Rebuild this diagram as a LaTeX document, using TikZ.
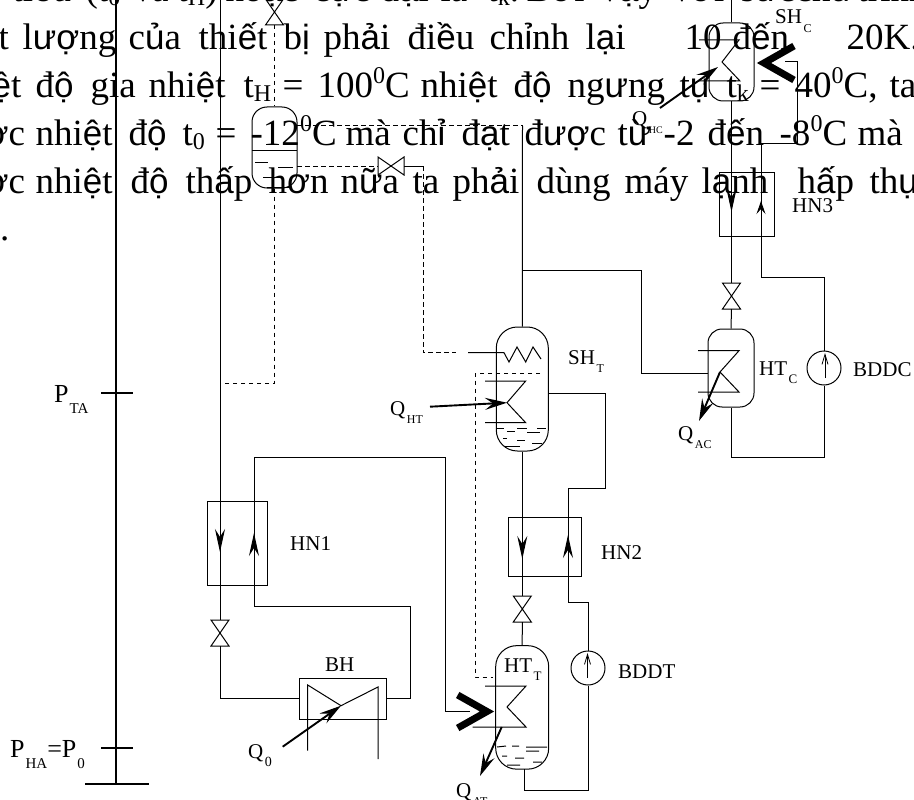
\documentclass[tikz,border=0pt]{standalone}
\usepackage{fontspec}
\setmainfont{Liberation Serif}
\newfontfamily\fbk{Liberation Sans}
\usetikzlibrary{arrows.meta,calc}
% body text helpers
\newcommand{\bsize}{\fontsize{37}{40}\selectfont}
\newcommand{\sv}[1]{{\fbk\fontsize{35}{40}\selectfont #1}}
\newcommand{\dn}[1]{\raisebox{-4pt}{\fontsize{24}{24}\selectfont #1}}
\newcommand{\upp}[1]{\raisebox{14pt}{\fontsize{24}{24}\selectfont #1}}
\newcommand{\wrd}[2]{\rlap{\hskip #1pt #2}}
% label helpers
\newcommand{\lsub}[3]{{\fontsize{21}{22}\selectfont #1}\raisebox{-8.5pt}{\fontsize{#3}{#3}\selectfont\hspace{1.5pt}#2}}
\newcommand{\valveV}[3]{%
  \coordinate (#1) at (#2,#3);
  \coordinate (#1-a) at ($(#1)+(0,-13)$);
  \coordinate (#1-b) at ($(#1)+(0,13)$);
  \draw[pipe] ($(#1)+(-9,-13)$) -- ($(#1)+(9,-13)$) -- ($(#1)+(-9,13)$) -- ($(#1)+(9,13)$) -- cycle;}
\newcommand{\valveH}[3]{%
  \coordinate (#1) at (#2,#3);
  \coordinate (#1-a) at ($(#1)+(-13,0)$);
  \coordinate (#1-b) at ($(#1)+(13,0)$);
  \draw[pipe] ($(#1)+(-13,-9)$) -- ($(#1)+(-13,9)$) -- ($(#1)+(13,-9)$) -- ($(#1)+(13,9)$) -- cycle;}
\tikzset{
  pipe/.style={line width=1pt,line join=miter},
  dashpipe/.style={pipe,dash pattern=on 4.5pt off 3.5pt},
  bodyline/.style={anchor=base west,inner sep=0pt,font=\bsize},
  vessel/.style={draw,line width=1pt,inner sep=0pt,minimum width=#1},
  box/.style={draw,line width=1pt,inner sep=0pt},
  pump/.style={draw,circle,line width=1pt,inner sep=0pt,minimum size=34pt},
  lab/.style={inner sep=0pt,anchor=base west,font=\fontsize{21}{22}\selectfont},
  axis/.style={line width=2pt},
  tick/.style={line width=1.8pt},
  heat/.style={line width=1.9pt,-{Stealth[length=22pt,width=12pt,inset=8pt]}},
  flow/.style={line width=1pt,-{Stealth[length=23pt,width=10pt,inset=8pt]}},
  flowsmall/.style={line width=1pt,-{Stealth[length=13pt,width=9pt,inset=5pt]}},
  pumpflow/.style={line width=.8pt,-{Straight Barb[length=10pt,width=6pt]}},
  chev/.style={line width=7pt,line join=miter,miter limit=10},
}
\begin{document}
\begin{tikzpicture}[x=1pt,y=-1pt]
\clip (0,0) rectangle (914,800);
\useasboundingbox (0,0) rectangle (914,800);
% ---------- background paragraph
\node[bodyline] (line0) at (0,2) {\wrd{12}{ti\sv{ể}u}\wrd{85}{(t\dn{0}}\wrd{133}{và}\wrd{177}{t\dn{H})}\wrd{225}{ho\sv{ặ}c}\wrd{313}{c\sv{ự}c}\wrd{380}{đ\sv{ạ}i}\wrd{440}{là}\wrd{487}{t\dn{k}.}\wrd{526}{B\sv{ở}i}\wrd{600}{v\sv{ậ}y}\wrd{672}{v\sv{ớ}i}\wrd{740}{s\sv{ứ}c}\wrd{795}{ch\sv{ủ}}\wrd{857}{trình}};
\node[bodyline] (line1) at (0,50) {\wrd{-2}{t}\wrd{22}{l\sv{ượ}ng}\wrd{128}{c\sv{ủ}a}\wrd{198}{thi\sv{ế}t}\wrd{283}{b\sv{ị}}\wrd{323}{ph\sv{ả}i}\wrd{407}{đi\sv{ề}u}\wrd{489}{ch\sv{ỉ}nh}\wrd{585}{l\sv{ạ}i}\wrd{684}{10}\wrd{732}{đ\sv{ế}n}\wrd{846}{20K.}};
\node[bodyline] (line2) at (0,98) {\wrd{-9}{\sv{ệ}t}\wrd{35}{đ\sv{ộ}}\wrd{90}{gia}\wrd{148}{nhi\sv{ệ}t}\wrd{243}{t\dn{H}}\wrd{282}{=}\wrd{317}{100\upp{0}C}\wrd{420}{nhi\sv{ệ}t}\wrd{513}{đ\sv{ộ}}\wrd{567}{ng\sv{ư}ng}\wrd{679}{t\sv{ụ}}\wrd{726}{t\dn{k}}\wrd{759}{=}\wrd{794}{40\upp{0}C,}\wrd{889}{ta}};
\node[bodyline] (line3) at (0,146) {\wrd{-15}{\sv{ợ}c}\wrd{35}{nhi\sv{ệ}t}\wrd{128}{đ\sv{ộ}}\wrd{182}{t\dn{0}}\wrd{215}{=}\wrd{250}{-12\upp{0}C}\wrd{345}{mà}\wrd{402}{ch\sv{ỉ}}\wrd{461}{đ\sv{ạ}t}\wrd{524}{đ\sv{ượ}c}\wrd{617}{t\sv{ừ}}\wrd{663}{-2}\wrd{707}{đ\sv{ế}n}\wrd{779}{-8\upp{0}C}\wrd{857}{mà}};
\node[bodyline] (line4) at (0,193) {\wrd{-15}{\sv{ợ}c}\wrd{35}{nhi\sv{ệ}t}\wrd{130}{đ\sv{ộ}}\wrd{185}{th\sv{ấ}p}\wrd{268}{h\sv{ơ}n}\wrd{340}{n\sv{ữ}a}\wrd{412}{ta}\wrd{452}{ph\sv{ả}i}\wrd{536}{dùng}\wrd{624}{máy}\wrd{701}{l\sv{ạ}nh}\wrd{797}{h\sv{ấ}p}\wrd{869}{th\sv{ụ}}};
\node[bodyline] (line5) at (0,240) {.};
% ---------- pressure scale
\coordinate (axT) at (115.5,0); \coordinate (axB) at (115.5,784);
\coordinate (baseL) at (85,784); \coordinate (baseR) at (149,784);
\coordinate (ptaL) at (101,393); \coordinate (ptaR) at (133,393);
\coordinate (phaL) at (101,748); \coordinate (phaR) at (133,748);
\draw[axis] (axT) -- (axB);
\draw[tick] (baseL) -- (baseR);
\draw[tick] (ptaL) -- (ptaR);
\draw[tick] (phaL) -- (phaR);
\node[lab,font=\fontsize{26}{28}\selectfont] (pta) at (54,402) {P\raisebox{-11pt}{\fontsize{15}{15}\selectfont\hspace{1pt}TA}};
\node[lab,font=\fontsize{26}{28}\selectfont] (pha) at (10,757) {P\raisebox{-11pt}{\fontsize{15}{15}\selectfont\hspace{1pt}HA}=P\raisebox{-11pt}{\fontsize{15}{15}\selectfont\hspace{1pt}0}};
% ---------- equipment
\node[vessel=45pt,minimum height=81pt,rounded corners=15pt] (tank) at (274.5,147.5) {};
\node[vessel=45pt,minimum height=78pt,rounded corners=14pt] (shc) at (731.5,62) {};
\node[vessel=46pt,minimum height=78pt,rounded corners=14pt] (htc) at (731,368) {};
\node[vessel=52pt,minimum height=124pt,rounded corners=21pt] (sht) at (522.3,389) {};
\node[vessel=53pt,minimum height=123.5pt,rounded corners=21pt] (htt) at (522.2,707.4) {};
\node[box,minimum width=55pt,minimum height=64pt] (hn3) at (746.5,204.7) {};
\node[box,minimum width=73.3pt,minimum height=59pt] (hn2) at (545.3,547.2) {};
\node[box,minimum width=60pt,minimum height=84pt] (hn1) at (237.3,543) {};
\node[box,minimum width=87.7pt,minimum height=41pt] (bh) at (342.9,698.5) {};
\node[pump] (bddc) at (824,368) {};
\node[pump] (bddt) at (588,668) {};
\valveV{v0}{274.5}{12}
\valveH{v2}{391}{166}
\valveV{v3}{731.5}{296}
\valveV{v4}{522.3}{609}
\valveV{v1}{220}{633}
% ---------- routing points
\coordinate (l1top) at (220,0);
\coordinate (dTee) at (220,383); \coordinate (dCorner) at (274.5,383);
\coordinate (hotA) at (297,126); \coordinate (hotB) at (522.5,126);
\coordinate (tankR) at (297,166);
\coordinate (d2a) at (423,166); \coordinate (d2b) at (423,352.7); \coordinate (d2c) at (456,352.7);
\coordinate (c1) at (468,352.7); \coordinate (c2) at (504,352.7); \coordinate (c3) at (509,362); \coordinate (c4) at (517,347); \coordinate (c5) at (525.7,362); \coordinate (c6) at (533,347); \coordinate (c7) at (541,359);
\coordinate (brA) at (522.5,270.7); \coordinate (brB) at (641.5,270.7); \coordinate (brC) at (641.5,373); \coordinate (brD) at (708,373);
% low-pressure loop
\draw[pipe] (l1top) -- (v1-a);
\draw[pipe] (v1-b) |- (bh.west);
\coordinate (a1) at (410.7,698.5); \coordinate (a2) at (410.7,606); \coordinate (a3) at (254,606); \coordinate (a4) at (254,457); \coordinate (a5) at (445,457); \coordinate (a6) at (445,711.5); \coordinate (a7) at (470,711.5);
\draw[pipe] (bh.east) -- (a1) -- (a2) -- (a3) -- (a4) -- (a5) -- (a6) -- (a7);
\coordinate (f1a) at (220,520); \coordinate (f1b) at (220,552);
\coordinate (f2a) at (254,565); \coordinate (f2b) at (254,533);
\draw[flow] (f1a) -- (f1b);
\draw[flow] (f2a) -- (f2b);
% dashed liquid lines
\draw[dashpipe] (v0-b) -- (tank.north);
\draw[dashpipe] (tank.south) -- (dCorner) -- (dTee);
\draw[dashpipe] (hotA) -- (hotB);
\draw[dashpipe] (tankR) -- (v2-a);
\draw[pipe] (v2-b) -- (d2a);
\draw[dashpipe] (d2a) -- (d2b) -- (d2c);
\draw[pipe] (c1) -- (c2) -- (c3) -- (c4) -- (c5) -- (c6) -- (c7);
% tank liquid
\coordinate (t0a) at (252,150); \coordinate (t0b) at (297,150);
\draw[pipe] (t0a) -- (t0b);
\coordinate (t1a) at (255,162); \coordinate (t1b) at (268,162);
\coordinate (t2a) at (278,167); \coordinate (t2b) at (293,167);
\coordinate (t3a) at (263,177); \coordinate (t3b) at (280,177);
\coordinate (t4a) at (267,187.5); \coordinate (t4b) at (290,187.5);
\draw[pipe] (t1a) -- (t1b) (t2a) -- (t2b) (t3a) -- (t3b) (t4a) -- (t4b);
% SH_T and branch
\draw[pipe] (hotB) -- (sht.north);
\draw[pipe] (brA) -- (brB) -- (brC) -- (brD);
\coordinate (z1) at (485,381); \coordinate (z2) at (525.7,381); \coordinate (z3) at (507,402.7); \coordinate (z4) at (525.7,422.7); \coordinate (z5) at (485,422.7);
\draw[pipe] (z1) -- (z2) -- (z3) -- (z4) -- (z5);
\coordinate (qa) at (430,406.7);
\draw[heat] (qa) -- (z3);
\coordinate (d3a) at (540,373.7); \coordinate (d3b) at (475,373.7); \coordinate (d3c) at (475,677); \coordinate (d3d) at (493,677);
\draw[dashpipe] (d3a) -- (d3b) -- (d3c) -- (d3d);
\draw[pipe] (496,428) -- (504,428) (517,428) -- (527,428) (537,428) -- (546,428)
  (507,431.5) -- (515,431.5) (527,432.5) -- (540,432.5)
  (503,438) -- (507,438) (517,440) -- (525,440)
  (532,443) -- (542,443) (505,446.5) -- (520,446.5);
\draw[pipe] (sht.south) -- (v4-a);
\draw[pipe] (v4-b) -- (htt.north);
\coordinate (f3a) at (522.3,530); \coordinate (f3b) at (522.3,559);
\coordinate (f4a) at (568,565); \coordinate (f4b) at (568,535);
\draw[flow] (f3a) -- (f3b);
\draw[flow] (f4a) -- (f4b);
% T loop
\coordinate (e1) at (548.3,393); \coordinate (e2) at (605,393); \coordinate (e3) at (605,488); \coordinate (e4) at (568,488); \coordinate (e5) at (568,602.7); \coordinate (e6) at (588,602.7);
\draw[pipe] (e1) -- (e2) -- (e3) -- (e4) -- (e5) -- (e6) -- (bddt.north);
\coordinate (e7) at (588,790); \coordinate (e8) at (524,790); \coordinate (e9) at (524,769);
\draw[pipe] (bddt.south) -- (e7) -- (e8) -- (e9);
\coordinate (pa) at (587.5,678); \coordinate (pb) at (587.5,653);
\draw[pumpflow] (pa) -- (pb);
% HT_T internals
\coordinate (y1) at (485,686); \coordinate (y2) at (526,686); \coordinate (y3) at (507,707); \coordinate (y4) at (526,727); \coordinate (y5) at (472.7,727);
\draw[pipe] (y1) -- (y2) -- (y3) -- (y4) -- (y5);
\coordinate (ch1) at (457.7,695); \coordinate (ch2) at (487,711.5); \coordinate (ch3) at (457.7,728);
\draw[chev] (ch1) -- (ch2) -- (ch3);
\coordinate (qt1) at (501.7,727); \coordinate (qt2) at (480,776);
\draw[heat] (qt1) -- (qt2);
\draw[pipe] (497,747) -- (506,746) (512,746) -- (519,746) (526,747) -- (547,747)
  (526,751) -- (539,751) (502,756) -- (507,756) (515,758) -- (524,758)
  (533,762) -- (542,762) (507,765) -- (520,765);
% BH internals
\coordinate (b1) at (307.7,750.7); \coordinate (b2) at (307.7,685); \coordinate (b3) at (341,705.7); \coordinate (b4) at (378,687); \coordinate (b5) at (378,759);
\draw[pipe] (b1) -- (b2) -- (b3) -- (b4) -- (b5);
\coordinate (q0a) at (282.7,746.7);
\draw[heat] (q0a) -- (b3);
% cascade stage
\coordinate (shcTop) at (731.5,0);
\draw[pipe] (shcTop) -- (shc.north);
\draw[pipe] (shc.south) -- (v3-a);
\draw[pipe] (v3-b) -- (htc.north);
\coordinate (s1) at (699,40); \coordinate (s2) at (739,40); \coordinate (s3) at (722,62); \coordinate (s4) at (740,81); \coordinate (s5) at (699,81);
\draw[pipe] (s1) -- (s2) -- (s3) -- (s4) -- (s5);
\coordinate (qh) at (660,108); \coordinate (qh2) at (718,67);
\draw[heat] (qh) -- (qh2);
\coordinate (ck1) at (794,46); \coordinate (ck2) at (764,63); \coordinate (ck3) at (794,80);
\draw[chev] (ck1) -- (ck2) -- (ck3);
\coordinate (r1) at (824,457); \coordinate (r2) at (731,457);
\draw[pipe] (bddc.south) -- (r1) -- (r2) -- (htc.south);
\coordinate (u1) at (824,277.7); \coordinate (u2) at (761,277.7); \coordinate (u3) at (761,143); \coordinate (u4) at (797,143); \coordinate (u5) at (797,62); \coordinate (u6) at (785,62);
\draw[pipe] (bddc.north) -- (u1) -- (u2) -- (u3) -- (u4) -- (u5) -- (u6);
\coordinate (f5a) at (731.5,185); \coordinate (f5b) at (731.5,212);
\coordinate (f6a) at (761,218); \coordinate (f6b) at (761,201);
\draw[flow] (f5a) -- (f5b);
\draw[flowsmall] (f6a) -- (f6b);
\coordinate (pc) at (825,378); \coordinate (pd) at (825,353);
\draw[pumpflow] (pc) -- (pd);
% HT_C internals
\coordinate (w1) at (698,350.7); \coordinate (w2) at (739,350.7); \coordinate (w3) at (720,372); \coordinate (w4) at (739,392); \coordinate (w5) at (698,392);
\draw[pipe] (w1) -- (w2) -- (w3) -- (w4) -- (w5);
\coordinate (qc) at (699,421);
\draw[heat] (w3) -- (qc);
% ---------- labels
\node[lab] (lsht) at (568,364) {\lsub{SH}{T}{12}};
\node[lab] (lshc) at (775,24) {\lsub{SH}{C}{12}};
\node[lab] (lhtc) at (759,375) {\lsub{HT}{C}{13}};
\node[lab] (lhtt) at (504,672) {\lsub{HT}{T}{13}};
\node[lab] (lhn1) at (290,550) {HN1};
\node[lab] (lhn2) at (601,559) {HN2};
\node[lab] (lhn3) at (792,212) {HN3};
\node[lab] (lbh) at (325,671) {BH};
\node[lab] (lbddc) at (853,376) {BDDC};
\node[lab] (lbddt) at (618,678) {BDDT};
\node[lab] (qht) at (390,415) {\lsub{Q}{HT}{12}};
\node[lab] (qhc) at (632,125) {\lsub{Q}{HC}{10}};
\node[lab] (qac) at (678,440) {\lsub{Q}{AC}{12}};
\node[lab] (qat) at (456,797) {\lsub{Q}{AT}{12}};
\node[lab] (qz) at (248,758) {\lsub{Q}{0}{14}};
\end{tikzpicture}
\end{document}
